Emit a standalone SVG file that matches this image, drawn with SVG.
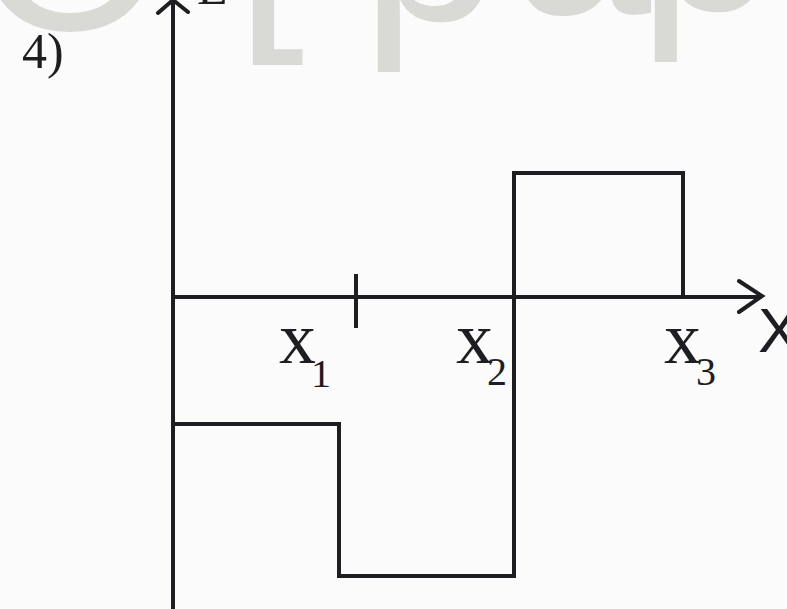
<svg xmlns="http://www.w3.org/2000/svg" width="787" height="609" viewBox="0 0 787 609">
  <style>
    .wm { font-family: "Liberation Sans", Arial, sans-serif; font-size: 250px; fill: #d9dad6; }
    .ln { fill: none; stroke: #1d1d22; stroke-width: 4; stroke-linecap: square; stroke-linejoin: miter; }
    .ar { fill: none; stroke: #1d1d22; stroke-width: 4; stroke-linecap: round; stroke-linejoin: miter; }
    .lbl { font-family: "Liberation Serif", "Times New Roman", serif; fill: #1d1d22; }
    .big { font-size: 74px; }
    .sub { font-size: 40px; }
  </style>
  <rect x="0" y="0" width="787" height="609" fill="#fafbfa"/>
  <g id="watermark">
    <text class="wm" x="-27" y="30">O</text>
    <text class="wm" x="235" y="13">[</text>
    <text class="wm" x="361" y="20">p</text>
    <text class="wm" x="512" y="14">a</text>
    <text class="wm" x="638" y="10">p</text>
  </g>
  <g id="number">
    <text class="lbl" x="22" y="68" font-size="50">4)</text>
  </g>
  <g id="axes">
    <line class="ln" x1="173" y1="2" x2="173" y2="612"/>
    <polyline class="ar" points="158,13 173,0 188,12"/>
    <line class="ln" x1="173" y1="297" x2="760" y2="297"/>
    <polyline class="ar" points="739,281 762,296 739,312"/>
    <line class="ln" x1="356" y1="276" x2="356" y2="326"/>
    <text class="lbl" x="197" y="4" font-size="50">E</text>
    <text x="758" y="352" font-family="Liberation Sans, Arial, sans-serif" font-size="63" fill="#1d1d22">X</text>
  </g>
  <g id="label-x1">
    <text class="lbl big" x="279" y="363">x</text>
    <text class="lbl sub" x="311" y="387">1</text>
  </g>
  <g id="label-x2">
    <text class="lbl big" x="456" y="363">x</text>
    <text class="lbl sub" x="487" y="385">2</text>
  </g>
  <g id="label-x3">
    <text class="lbl big" x="664" y="363">x</text>
    <text class="lbl sub" x="696" y="385">3</text>
  </g>
  <g id="connectors">
    <polyline class="ln" points="173,424 339,424 339,576 514,576 514,173 683,173 683,297"/>
  </g>
</svg>
